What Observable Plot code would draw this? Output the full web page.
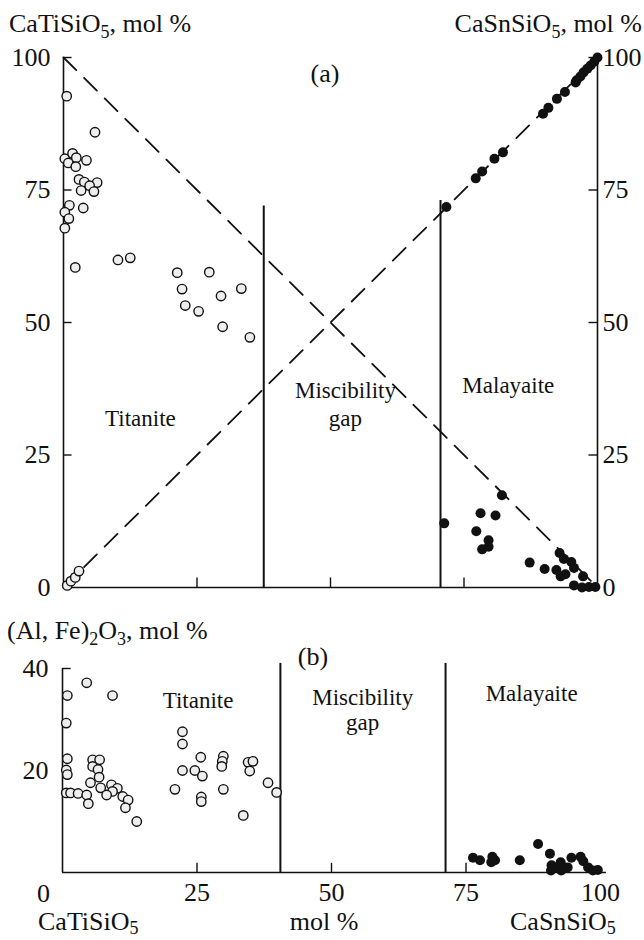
<!DOCTYPE html>
<html>
<head>
<meta charset="utf-8">
<script src="https://cdn.jsdelivr.net/npm/d3@7"></script>
<script src="https://cdn.jsdelivr.net/npm/@observablehq/plot@0.6"></script>
<style>
  html, body { margin: 0; padding: 0; background: #fff; }
  #wrap { position: relative; width: 644px; height: 940px; font-family: "Liberation Serif", "Times New Roman", serif; color: #111; }
  .lbl { position: absolute; font-size: 26px; line-height: 26px; height: 26px; white-space: nowrap; }
  .lbl .s { font-size: 18px; vertical-align: -6px; }
  .lbl.bot { line-height: 20px; height: 20px; }
  .lbl.bot .s { vertical-align: -4px; }
  #wrap svg { position: absolute; left: 0; }
</style>
</head>
<body>
<div id="wrap"></div>
<script>
// ---------- DATA ----------
// Panel (a): x = mol % (0 CaTiSiO5 .. 100 CaSnSiO5), y = mol %
const titaniteA = [
  [0.6,92.7],[5.9,85.9],[0.25,80.9],[1.7,81.9],[2.4,81.1],[0.9,80.1],[4.3,80.6],[2.3,79.4],
  [2.9,77.0],[3.9,76.5],[6.3,76.4],[4.9,75.8],[3.3,74.9],[5.7,74.7],[1.1,72.1],[0.25,70.8],
  [3.7,71.6],[1.0,69.6],[0.25,67.8],[2.2,60.4],[10.2,61.8],[12.5,62.2],[21.3,59.4],[22.2,56.3],
  [27.3,59.5],[33.3,56.4],[29.5,55.0],[22.8,53.2],[25.3,52.1],[29.8,49.2],[34.9,47.2],
  [0.7,0.4],[1.4,1.2],[2.2,1.9],[2.9,3.1]
];
const malayaiteA = [
  [100,100],[99.4,99.2],[98.7,98.5],[98.1,97.9],[97.4,97.2],[96.8,96.4],[96.1,95.7],[95.9,95.3],
  [93.9,93.5],[92.4,92.2],[90.8,90.5],[89.8,89.4],[82.3,82.1],[80.7,80.9],[78.4,78.5],[77.2,77.2],
  [71.7,71.8],
  [71.3,12.1],[82.1,17.4],[78.1,14.0],[80.9,13.6],[77.3,10.6],[79.6,8.9],[78.4,7.2],[79.6,7.7],
  [87.3,4.7],[90.1,3.5],[92.9,6.5],[93.7,5.4],[95.1,4.8],[95.6,3.7],[92.3,3.3],[93.1,2.1],
  [94.0,2.5],[97.3,2.1],[95.6,0.4],[97.1,0.0],[98.4,0.1],[99.6,0.1]
];
// Panel (b): x = mol %, y = (Al, Fe)2O3 mol %
const titaniteB = [
  [4.5,37.2],[0.9,34.7],[9.3,34.7],[0.7,29.3],[0.9,22.3],[0.7,20.1],[0.9,19.2],[5.6,22.1],
  [6.9,22.1],[5.6,20.8],[6.6,20.2],[6.8,18.7],[5.2,17.6],[7.1,16.6],[9.1,17.2],[10.2,16.5],
  [9.3,15.9],[8.2,15.2],[0.7,15.6],[1.5,15.6],[2.9,15.5],[4.5,15.2],[11.2,14.9],[12.2,14.2],
  [4.8,13.5],[11.7,12.7],[13.8,10.0],
  [22.3,27.6],[22.3,25.2],[25.7,22.6],[29.9,22.8],[29.7,21.8],[29.6,20.8],[34.5,21.6],[35.4,21.8],
  [34.8,19.9],[22.3,20.0],[24.6,20.0],[26.0,18.9],[20.9,16.3],[29.9,16.3],[25.8,14.8],[25.8,13.9],
  [33.6,11.2],[38.2,17.6],[39.8,15.7]
];
const malayaiteB = [
  [76.3,2.9],[77.6,2.4],[79.9,3.1],[80.4,2.4],[79.7,2.0],[85.0,2.4],[88.4,5.6],[90.6,3.7],
  [90.9,1.4],[90.8,0.4],[91.8,1.0],[92.6,2.0],[92.7,0.4],[93.9,1.0],[94.6,2.9],[96.3,3.1],
  [96.8,2.2],[97.7,1.0],[98.6,0.4],[99.5,0.5]
];
// reference lines
const tiLine = [[0,100],[100,0]];      // CaTiSiO5 end-member line
const snLine = [[0,0],[100,100]];      // CaSnSiO5 end-member line
const gapA = [37.5, 70.6];  const gapTopA = [72, 73];
const gapB = [40.5, 71.2];  const gapTopB = 41;
// ticks
const yTicksA = [0, 25, 50, 75, 100];
const xInnerTicks = [25, 50, 75];
const yTicksB = [20, 40];
const xTicksB = [25, 50, 75, 100];
// in-plot labels
const labelsA = [
  {x: 14.4, y: 31.9, t: "Titanite"},
  {x: 52.8, y: 37.2, t: "Miscibility"},
  {x: 52.8, y: 31.9, t: "gap"},
  {x: 83.3, y: 38.1, t: "Malayaite"}
];
const labelsB = [
  {x: 25.2, y: 33.7, t: "Titanite"},
  {x: 55.8, y: 34.3, t: "Miscibility"},
  {x: 55.8, y: 29.4, t: "gap"},
  {x: 87.2, y: 35.1, t: "Malayaite"}
];

// ---------- DRAW ----------
const FONT = "'Liberation Serif', 'Times New Roman', serif";
const wrap = document.getElementById("wrap");
const openDot = {r: 4.7, fill: "#eeeeee", stroke: "#111", strokeWidth: 1.4};
const fillDot = {r: 5, fill: "#111", stroke: "none"};

const plotA = Plot.plot({
  width: 644, height: 600,
  marginTop: 57, marginBottom: 13, marginLeft: 63, marginRight: 47,
  x: {domain: [0, 100], axis: null},
  y: {domain: [0, 100], axis: null},
  style: {fontFamily: FONT, background: "transparent", overflow: "visible", color: "#111"},
  marks: [
    Plot.axisY(yTicksA, {anchor: "left", tickSize: 0, tickPadding: 13, fontSize: 26, label: null}),
    Plot.axisY(yTicksA, {anchor: "right", tickSize: 0, tickPadding: 5, fontSize: 26, label: null}),
    Plot.ruleX([0, 100], {y1: 0, y2: 100, stroke: "#111", strokeWidth: 1.6}),
    Plot.ruleY([0], {x1: 0, x2: 100, stroke: "#111", strokeWidth: 1.6}),
    Plot.ruleY(yTicksA, {x1: 0, x2: 1.6, stroke: "#111", strokeWidth: 1.4}),
    Plot.ruleY(yTicksA, {x1: 98.4, x2: 100, stroke: "#111", strokeWidth: 1.4}),
    Plot.ruleX(xInnerTicks, {y1: 0, y2: 1.8, stroke: "#111", strokeWidth: 1.4}),
    Plot.line(tiLine, {x: d => d[0], y: d => d[1], stroke: "#111", strokeWidth: 1.8, strokeDasharray: "18,11"}),
    Plot.line(snLine, {x: d => d[0], y: d => d[1], stroke: "#111", strokeWidth: 1.8, strokeDasharray: "18,11"}),
    Plot.ruleX(gapA, {y1: 0, y2: (d, i) => gapTopA[i], stroke: "#111", strokeWidth: 2}),
    Plot.text(labelsA, {x: "x", y: "y", text: "t", fontSize: 23, fill: "#111"}),
    Plot.dot(titaniteA, {x: d => d[0], y: d => d[1], ...openDot}),
    Plot.dot(malayaiteA, {x: d => d[0], y: d => d[1], ...fillDot})
  ]
});
plotA.style.top = "0px";
wrap.appendChild(plotA);

const plotB = Plot.plot({
  width: 644, height: 320,
  marginTop: 48, marginBottom: 68, marginLeft: 62, marginRight: 44,
  x: {domain: [0, 100], axis: null},
  y: {domain: [0, 40], axis: null},
  style: {fontFamily: FONT, background: "transparent", overflow: "visible", color: "#111"},
  marks: [
    Plot.axisY(yTicksB, {anchor: "left", tickSize: 0, tickPadding: 14, fontSize: 26, label: null}),
    Plot.axisX(xTicksB, {anchor: "bottom", tickSize: 0, tickPadding: 10, fontSize: 26, label: null}),
    Plot.text([0], {x: d => d, y: 0, text: d => String(d), dx: -19, dy: 21, fontSize: 26, fill: "#111"}),
    Plot.ruleX([0], {y1: 0, y2: 40, stroke: "#111", strokeWidth: 1.6}),
    Plot.ruleY([0], {x1: 0, x2: 101.1, stroke: "#111", strokeWidth: 1.6}),
    Plot.ruleY(yTicksB, {x1: 0, x2: 1.6, stroke: "#111", strokeWidth: 1.4}),
    Plot.ruleX(xInnerTicks, {y1: 0, y2: 1.8, stroke: "#111", strokeWidth: 1.4}),
    Plot.ruleX(gapB, {y1: 0, y2: gapTopB, stroke: "#111", strokeWidth: 2}),
    Plot.text(labelsB, {x: "x", y: "y", text: "t", fontSize: 23, fill: "#111"}),
    Plot.dot(titaniteB, {x: d => d[0], y: d => d[1], ...openDot}),
    Plot.dot(malayaiteB, {x: d => d[0], y: d => d[1], ...fillDot})
  ]
});
plotB.style.top = "620px";
wrap.appendChild(plotB);

// ---------- TITLES (HTML) ----------
function addLabel(html, baseline, opts) {
  const d = document.createElement("div");
  const bot = opts.cls === "bot";
  d.className = "lbl" + (opts.cls ? " " + opts.cls : "");
  d.innerHTML = html;
  d.style.top = (baseline - (bot ? 19 : 22)) + "px";
  if (opts.left != null) d.style.left = opts.left + "px";
  if (opts.right != null) d.style.right = (644 - opts.right) + "px";
  if (opts.center != null) { d.style.left = opts.center + "px"; d.style.transform = "translateX(-50%)"; }
  wrap.appendChild(d);
}
addLabel('CaTiSiO<span class="s">5</span>, mol %', 33, {left: 9});
addLabel('CaSnSiO<span class="s">5</span>, mol %', 33, {right: 642});
addLabel('(a)', 83, {center: 325});
addLabel('(Al, Fe)<span class="s">2</span>O<span class="s">3</span>, mol %', 640, {left: 7});
addLabel('(b)', 666, {center: 313});
addLabel('CaTiSiO<span class="s">5</span>', 931, {left: 38, cls: "bot"});
addLabel('mol %', 931, {center: 324, cls: "bot"});
addLabel('CaSnSiO<span class="s">5</span>', 931, {left: 510, cls: "bot"});
</script>
</body>
</html>
